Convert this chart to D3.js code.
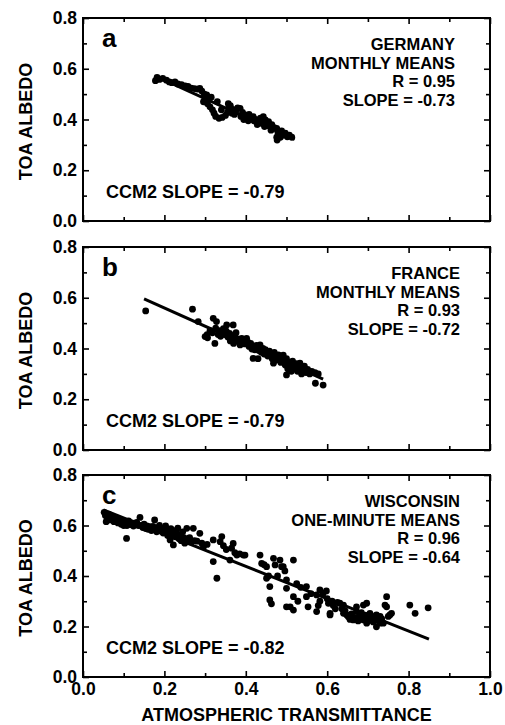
<!DOCTYPE html>
<html>
<head>
<meta charset="utf-8">
<script src="https://cdn.jsdelivr.net/npm/d3@7"></script>
<style>
  body { margin: 0; background: #fff; }
  text { font-family: "Liberation Sans", Arial, Helvetica, sans-serif; font-weight: bold; fill: #000; }
</style>
</head>
<body>
<svg id="chart" width="505" height="725"></svg>
<script>
// ---- data ----------------------------------------------------------------
// [atmospheric transmittance, TOA albedo]
const germanyPoints = [
  [0.178,0.553],[0.182,0.566],[0.188,0.558],[0.196,0.562],[0.205,0.555],[0.212,0.548],
  [0.218,0.545],[0.226,0.548],[0.233,0.540],[0.242,0.537],[0.251,0.532],[0.258,0.530],
  [0.266,0.524],[0.274,0.522],[0.281,0.520],[0.287,0.523],[0.292,0.512],[0.298,0.500],
  [0.304,0.497],[0.300,0.482],[0.296,0.470],[0.306,0.462],[0.312,0.450],[0.318,0.438],
  [0.322,0.425],[0.326,0.412],[0.334,0.405],[0.342,0.408],[0.350,0.416],[0.355,0.428],
  [0.358,0.445],[0.357,0.462],[0.362,0.455],[0.368,0.440],[0.375,0.432],[0.380,0.446],
  [0.386,0.444],[0.392,0.428],[0.398,0.418],[0.402,0.405],[0.408,0.420],[0.412,0.410],
  [0.418,0.411],[0.424,0.400],[0.430,0.392],[0.436,0.405],[0.443,0.411],[0.448,0.398],
  [0.451,0.385],[0.456,0.392],[0.459,0.372],[0.464,0.380],[0.470,0.368],[0.476,0.365],
  [0.479,0.350],[0.476,0.330],[0.477,0.319],[0.484,0.345],[0.488,0.355],[0.492,0.339],
  [0.497,0.346],[0.502,0.332],[0.507,0.338],[0.513,0.330],[0.446,0.372],[0.438,0.385],
  [0.420,0.395],[0.395,0.400],[0.372,0.420],[0.340,0.438],[0.330,0.470],[0.315,0.488],
  [0.406,0.395],[0.428,0.380],[0.462,0.358],[0.485,0.330],[0.366,0.425],[0.388,0.412]
];

const francePoints = [
  [0.154,0.548],[0.269,0.555],[0.283,0.506],[0.300,0.447],[0.306,0.442],[0.305,0.455],
  [0.312,0.470],[0.318,0.462],[0.320,0.519],[0.324,0.420],[0.326,0.480],[0.328,0.506],
  [0.332,0.455],[0.335,0.470],[0.338,0.448],[0.342,0.462],[0.345,0.478],[0.348,0.455],
  [0.352,0.468],[0.353,0.493],[0.356,0.445],[0.360,0.460],[0.362,0.430],[0.365,0.452],
  [0.369,0.493],[0.370,0.420],[0.373,0.445],[0.376,0.462],[0.380,0.438],[0.384,0.425],
  [0.386,0.414],[0.390,0.440],[0.394,0.430],[0.398,0.418],[0.402,0.440],[0.405,0.425],
  [0.408,0.408],[0.412,0.420],[0.415,0.398],[0.418,0.407],[0.418,0.361],[0.422,0.395],
  [0.426,0.412],[0.430,0.360],[0.432,0.392],[0.435,0.414],[0.438,0.385],[0.442,0.400],
  [0.445,0.378],[0.448,0.395],[0.451,0.387],[0.454,0.370],[0.458,0.390],[0.462,0.375],
  [0.465,0.360],[0.468,0.342],[0.470,0.385],[0.473,0.368],[0.476,0.355],[0.480,0.375],
  [0.483,0.360],[0.486,0.345],[0.489,0.370],[0.492,0.374],[0.494,0.350],[0.497,0.335],
  [0.500,0.296],[0.500,0.360],[0.503,0.320],[0.506,0.345],[0.509,0.330],[0.512,0.310],
  [0.515,0.350],[0.518,0.335],[0.521,0.320],[0.524,0.340],[0.527,0.310],[0.530,0.325],
  [0.533,0.342],[0.537,0.300],[0.540,0.315],[0.544,0.330],[0.548,0.305],[0.552,0.318],
  [0.557,0.300],[0.562,0.310],[0.570,0.305],[0.571,0.263],[0.578,0.300],[0.590,0.256]
];

const wisconsinPoints = [
  [0.052,0.652],[0.055,0.640],[0.057,0.615],[0.060,0.630],[0.063,0.645],[0.066,0.622],
  [0.070,0.638],[0.073,0.628],[0.076,0.615],[0.080,0.632],[0.083,0.625],[0.086,0.610],
  [0.090,0.620],[0.094,0.605],[0.097,0.615],[0.100,0.600],[0.104,0.612],[0.107,0.549],
  [0.108,0.600],[0.112,0.618],[0.116,0.604],[0.120,0.610],[0.124,0.598],[0.128,0.605],
  [0.132,0.612],[0.136,0.600],[0.140,0.632],[0.143,0.600],[0.147,0.592],[0.150,0.605],
  [0.154,0.588],[0.157,0.598],[0.160,0.585],[0.164,0.595],[0.168,0.580],[0.172,0.596],
  [0.176,0.622],[0.178,0.585],[0.181,0.575],[0.184,0.592],[0.188,0.600],[0.191,0.578],
  [0.194,0.585],[0.197,0.570],[0.200,0.590],[0.203,0.598],[0.206,0.582],[0.208,0.560],
  [0.211,0.575],[0.214,0.543],[0.216,0.588],[0.219,0.565],[0.222,0.523],[0.224,0.580],
  [0.227,0.555],[0.230,0.572],[0.233,0.590],[0.236,0.548],[0.238,0.562],[0.241,0.540],
  [0.245,0.575],[0.248,0.552],[0.250,0.530],[0.253,0.545],[0.255,0.589],[0.258,0.540],
  [0.262,0.552],[0.266,0.535],[0.271,0.589],[0.274,0.540],[0.280,0.538],[0.287,0.569],
  [0.292,0.530],[0.296,0.516],[0.305,0.525],[0.320,0.543],[0.320,0.457],[0.329,0.391],
  [0.337,0.536],[0.341,0.556],[0.345,0.520],[0.352,0.505],[0.361,0.463],[0.365,0.510],
  [0.369,0.529],[0.373,0.492],[0.378,0.483],[0.385,0.488],[0.394,0.483],[0.398,0.483],
  [0.435,0.483],[0.439,0.450],[0.445,0.445],[0.451,0.437],[0.451,0.391],[0.456,0.400],
  [0.459,0.358],[0.459,0.305],[0.463,0.290],[0.468,0.470],[0.472,0.444],[0.478,0.400],
  [0.484,0.463],[0.488,0.437],[0.492,0.437],[0.496,0.420],[0.500,0.351],[0.500,0.385],
  [0.500,0.278],[0.509,0.278],[0.517,0.463],[0.517,0.318],[0.517,0.265],[0.525,0.370],
  [0.528,0.300],[0.535,0.355],[0.549,0.358],[0.549,0.318],[0.553,0.278],[0.560,0.330],
  [0.574,0.325],[0.574,0.259],[0.578,0.283],[0.582,0.345],[0.582,0.300],[0.590,0.331],
  [0.598,0.341],[0.600,0.310],[0.603,0.292],[0.607,0.252],[0.607,0.246],[0.612,0.300],
  [0.615,0.283],[0.620,0.270],[0.625,0.295],[0.631,0.292],[0.636,0.270],[0.640,0.252],
  [0.640,0.285],[0.644,0.262],[0.648,0.246],[0.652,0.239],[0.656,0.228],[0.660,0.250],
  [0.664,0.226],[0.668,0.235],[0.672,0.278],[0.672,0.259],[0.676,0.222],[0.680,0.240],
  [0.684,0.255],[0.689,0.226],[0.689,0.285],[0.693,0.245],[0.697,0.292],[0.697,0.213],
  [0.701,0.232],[0.705,0.252],[0.709,0.226],[0.713,0.218],[0.717,0.240],[0.721,0.199],
  [0.721,0.246],[0.725,0.225],[0.730,0.213],[0.730,0.240],[0.734,0.230],[0.738,0.213],
  [0.742,0.285],[0.746,0.318],[0.746,0.278],[0.750,0.240],[0.754,0.246],[0.758,0.252],
  [0.803,0.285],[0.816,0.252],[0.848,0.274]
];

// least-squares fits: [slope, intercept, xStart, xEnd]
const germanyFit   = [-0.73, 0.701, 0.18, 0.52];
const franceFit    = [-0.72, 0.704, 0.15, 0.59];
const wisconsinFit = [-0.64, 0.694, 0.05, 0.85];

const panelLetters = ["a", "b", "c"];
const siteLabels = [
  ["GERMANY", "MONTHLY MEANS", "R = 0.95", "SLOPE = -0.73"],
  ["FRANCE", "MONTHLY MEANS", "R = 0.93", "SLOPE = -0.72"],
  ["WISCONSIN", "ONE-MINUTE MEANS", "R = 0.96", "SLOPE = -0.64"]
];
const ccm2Labels = ["CCM2 SLOPE = -0.79", "CCM2 SLOPE = -0.79", "CCM2 SLOPE = -0.82"];

const xMajorTicks = [0, 0.2, 0.4, 0.6, 0.8, 1.0];
const xMinorTicks = [0.1, 0.3, 0.5, 0.7, 0.9];
const yMajorTicks = [0, 0.2, 0.4, 0.6, 0.8];
const yMinorTicks = [0.1, 0.3, 0.5, 0.7];

const yTitle = "TOA ALBEDO";
const xTitle = "ATMOSPHERIC TRANSMITTANCE";

// ---- layout --------------------------------------------------------------
const svg = d3.select("#chart");
const left = 83, right = 490;
const panelTops = [18, 247, 475];
const panelHeights = [203, 203, 202];
const pointSets = [germanyPoints, francePoints, wisconsinPoints];
const fits = [germanyFit, franceFit, wisconsinFit];

const x = d3.scaleLinear().domain([0, 1]).range([left, right]);
const fmt = d3.format(".1f");

panelTops.forEach((top, i) => {
  const bottom = top + panelHeights[i];
  const y = d3.scaleLinear().domain([0, 0.8]).range([bottom, top]);
  const g = svg.append("g");

  // inward ticks on all four sides
  const addAxis = (axisFn, scale, values, size, transform, labels) => {
    const ax = axisFn(scale).tickValues(values).tickSizeInner(-size).tickSizeOuter(0).tickPadding(6);
    if (labels) ax.tickFormat(fmt); else ax.tickFormat("");
    const sel = g.append("g").attr("transform", transform).call(ax);
    sel.select(".domain").remove();
    sel.selectAll(".tick line").attr("stroke", "#000").attr("stroke-width", 1.6);
    sel.selectAll(".tick text").style("font-size", "17.5px").attr("fill", "#000");
    return sel;
  };
  addAxis(d3.axisLeft, y, yMajorTicks, 6, `translate(${left},0)`, true);
  addAxis(d3.axisLeft, y, yMinorTicks, 4, `translate(${left},0)`, false);
  addAxis(d3.axisRight, y, yMajorTicks, 6, `translate(${right},0)`, false);
  addAxis(d3.axisRight, y, yMinorTicks, 4, `translate(${right},0)`, false);
  addAxis(d3.axisTop, x, xMajorTicks, 6, `translate(0,${top})`, false);
  addAxis(d3.axisTop, x, xMinorTicks, 4, `translate(0,${top})`, false);
  addAxis(d3.axisBottom, x, xMajorTicks, 6, `translate(0,${bottom})`, i === 2);
  addAxis(d3.axisBottom, x, xMinorTicks, 4, `translate(0,${bottom})`, false);

  // frame
  g.append("rect")
    .attr("x", left).attr("y", top)
    .attr("width", right - left).attr("height", bottom - top)
    .attr("fill", "none").attr("stroke", "#000").attr("stroke-width", 2);

  // observations
  g.append("g").selectAll("circle")
    .data(pointSets[i])
    .join("circle")
    .attr("cx", d => x(d[0]))
    .attr("cy", d => y(d[1]))
    .attr("r", 3.4)
    .attr("fill", "#000");

  // regression line
  const [slope, icpt, x0, x1] = fits[i];
  const line = d3.line().x(d => x(d)).y(d => y(icpt + slope * d));
  g.append("path")
    .attr("d", line([x0, x1]))
    .attr("fill", "none").attr("stroke", "#000").attr("stroke-width", 3);

  // panel letter
  g.append("text")
    .attr("x", 102).attr("y", top + 29)
    .style("font-size", "26px")
    .text(panelLetters[i]);

  // site / statistics block
  const rx = i === 0 ? 455 : 460;
  g.append("g").selectAll("text")
    .data(siteLabels[i])
    .join("text")
    .attr("x", rx)
    .attr("y", (d, k) => top + 32 + k * 18.5)
    .attr("text-anchor", "end")
    .style("font-size", "16.5px")
    .text(d => d);

  // model slope
  g.append("text")
    .attr("x", 106).attr("y", bottom - 23)
    .style("font-size", "18px")
    .text(ccm2Labels[i]);

  // y title
  g.append("text")
    .attr("transform", `translate(32,${(top + bottom) / 2 + 2}) rotate(-90)`)
    .attr("text-anchor", "middle")
    .style("font-size", "18px")
    .text(yTitle);
});

svg.append("text")
  .attr("x", (left + right) / 2).attr("y", 721)
  .attr("text-anchor", "middle")
  .style("font-size", "18px")
  .text(xTitle);
</script>
</body>
</html>
